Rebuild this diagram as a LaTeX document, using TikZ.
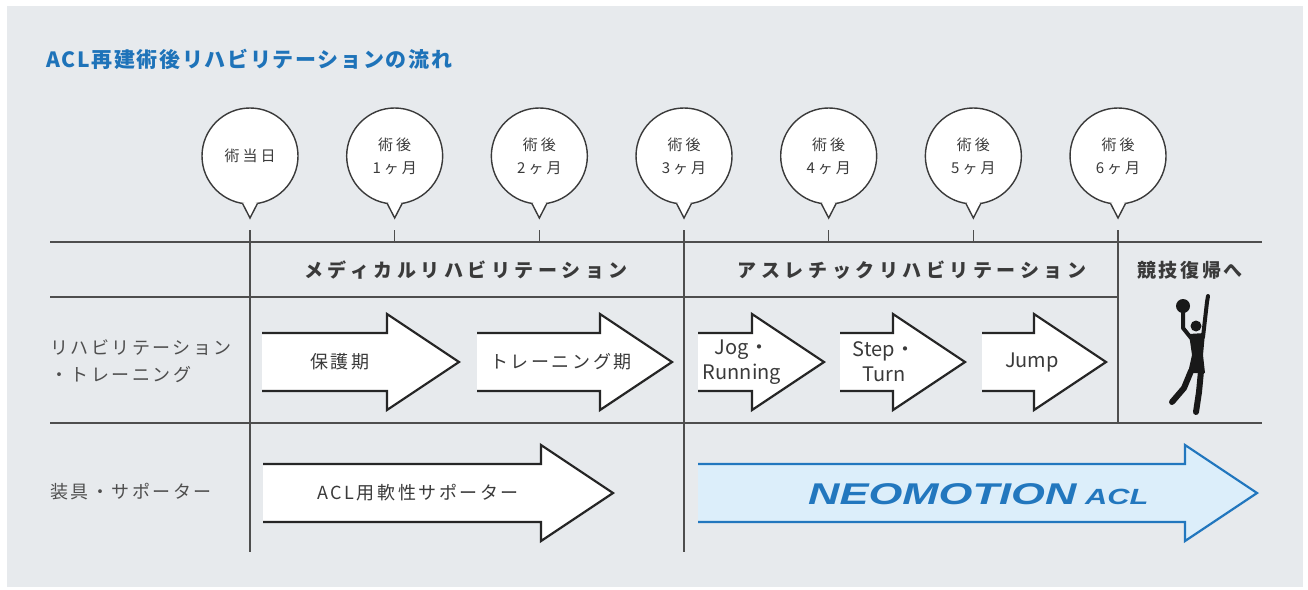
\documentclass[tikz,border=0pt]{standalone}
\usepackage{fontspec}
\setmainfont{Noto Sans CJK JP}
\newfontfamily\logofont{Liberation Sans}
\newcommand{\trk}[1]{\addfontfeature{LetterSpace=#1}}
\definecolor{bggray}{HTML}{E7EAED}
\definecolor{ttlblue}{HTML}{1E73B9}
\definecolor{neoblue}{HTML}{2277BE}
\definecolor{neofill}{HTML}{DCEEFA}
\definecolor{ink}{HTML}{3A3A3A}

\begin{document}
\begin{tikzpicture}
[x=1pt,y=-1pt,%
  every node/.style={inner sep=0pt,text=ink},%
  bubble/.style={shape=circle,draw=ink,line width=1.4pt,fill=white,minimum size=96pt,
    outer sep=0pt,align=center,font=\fontsize{15}{23}\selectfont\trk{20}},%
  bline/.style={draw=ink,line width=1.4pt,line join=miter},%
  grid/.style={draw=ink!90,line width=1.3pt},%
  head/.style={font=\fontsize{19}{19}\selectfont\bfseries\trk{24}},%
  rowlab/.style={anchor=west,align=left,text=ink!90,font=\fontsize{18}{27}\selectfont\trk{14}},%
  atext/.style={font=\fontsize{18}{18}\selectfont\trk{14}},%
  ltext/.style={align=center,font=\fontsize{20}{25}\selectfont},%
  barrowstyle/.style={fill=white,draw=black!85,line width=2.2pt,line join=miter},%
  pics/barrow/.style={code={
    \path[pic actions,draw=none] (0,-29) -- (#1,-29) -- (#1,-48) -- ({#1+72},0)
      -- (#1,48) -- (#1,29) -- (0,29) -- cycle;
    \path[pic actions,fill=none] (0,-29) -- (#1,-29) -- (#1,-48) -- ({#1+72},0)
      -- (#1,48) -- (#1,29) -- (0,29);
  }}]
\useasboundingbox (0,0) rectangle (1308,589);
\fill[white] (0,0) rectangle (1308,589);
\fill[bggray] (7,6) rectangle (1303,587);

\node[anchor=west,text=ttlblue,font=\fontsize{21}{21}\selectfont\bfseries\trk{8}] (title)
  at (46,59) {ACL再建術後リハビリテーションの流れ};

% bubbles
\node[bubble] (b0) at (250,156) {術当日};
\foreach \i in {1,...,6}
  \node[bubble] (b\i) at ({250+144.67*\i},156) {術後\\\i ヶ月};
\foreach \i in {0,...,6}{
  \path (b\i.south) ++(0,14) coordinate (p\i) ++(0,12) coordinate (t\i);
  \fill[white] (b\i.-99) -- (p\i) -- (b\i.-81) -- ([yshift=4pt]b\i.south) -- cycle;
  \draw[bline] (b\i.-99) -- (p\i) -- (b\i.-81);
}

% grid
\coordinate (g1) at (50,242);
\coordinate (g2) at (50,297);
\coordinate (g3) at (50,423);
\coordinate (gb) at (50,552);
\draw[grid] (g1) -- (1262,242);
\draw[grid] (g2) -- (t6 |- g2);
\draw[grid] (g3) -- (1262,423);
\foreach \i in {1,2,4,5}
  \draw[grid] (t\i) -- (t\i |- g1);
\draw[grid] (t0) -- (t0 |- gb);
\draw[grid] (t3) -- (t3 |- gb);
\draw[grid] (t6) -- (t6 |- g3);

% headers and row labels
\node[head] (hmed) at (466,270) {メディカルリハビリテーション};
\node[head] (hath) at (912,270) {アスレチックリハビリテーション};
\node[head,font=\fontsize{19}{19}\selectfont\bfseries\trk{14}] (hret) at (1190,270) {競技復帰へ};
\node[rowlab] (lreh) at (50,361) {リハビリテーション\\・トレーニング};
\node[rowlab] (lsup) at (50,492) {装具・サポーター};

% arrows
\pic[barrowstyle] at (262,362) {barrow=125};
\pic[barrowstyle] at (477,362) {barrow=123};
\pic[barrowstyle] at (698,362) {barrow=54};
\pic[barrowstyle] at (840,362) {barrow=53};
\pic[barrowstyle] at (982,362) {barrow=52};
\pic[barrowstyle] at (263,493) {barrow=278};
\pic[fill=neofill,draw=neoblue,line width=2.2pt,line join=miter] at (698,493) {barrow=487};

\node[atext] (a1) at (340,362) {保護期};
\node[atext] (a2) at (561,362) {トレーニング期};
\node[ltext] (a3) at (742,362) {Jog・\\Running};
\node[ltext] (a4) at (884,362) {Step・\\Turn};
\node[ltext] (a5) at (1032,362) {Jump};
\node[atext] (a6) at (418,493) {ACL用軟性サポーター};
\node[anchor=base west,text=neoblue,font=\logofont\bfseries\itshape\fontsize{30}{30}\selectfont]
  (neo) at (808,504) {\scalebox{1.45}[1]{NEOMOTION}};
\node[anchor=base west,text=neoblue,font=\logofont\bfseries\itshape\fontsize{22}{22}\selectfont]
  (acl) at (1085,504) {\scalebox{1.4}[1]{ACL}};

% player
\begin{scope}[black!90,line cap=round,line join=round]
\fill (1183,306) circle (7);
\fill (1196,326) circle (5.5);
\fill (1189,334) -- (1205,333) -- (1203,355) -- (1205,373) -- (1188,373) -- (1192,355) -- cycle;
\draw[line width=4pt] (1203,337) -- (1207,302) -- (1208,296);
\draw[line width=4pt] (1191,338) -- (1183,328) -- (1183,312);
\draw[line width=6pt] (1191,371) -- (1184,388) -- (1172,402);
\draw[line width=6pt] (1201,371) -- (1199,392) -- (1196,412);
\end{scope}
\end{tikzpicture}
\end{document}
